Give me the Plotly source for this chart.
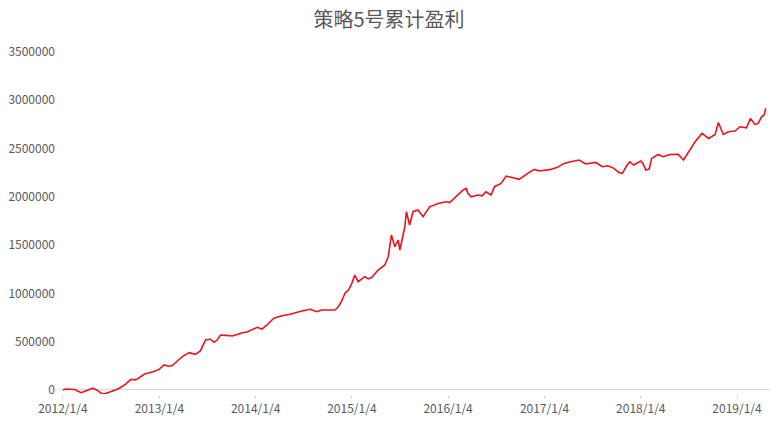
import plotly.graph_objects as go

dates = [
    "2012-01-04", "2012-01-16", "2012-02-17", "2012-03-13", "2012-04-04", "2012-04-26",
    "2012-05-11", "2012-05-28", "2012-06-11", "2012-06-22", "2012-07-11", "2012-07-26",
    "2012-08-11", "2012-08-29", "2012-09-18", "2012-10-02", "2012-10-13", "2012-11-08",
    "2012-11-24", "2012-12-15", "2013-01-04",
    "2013-01-22", "2013-02-07", "2013-02-22", "2013-03-13", "2013-04-01", "2013-04-27",
    "2013-05-09", "2013-05-21", "2013-06-09", "2013-06-28", "2013-07-17", "2013-07-30",
    "2013-08-11", "2013-08-24", "2013-09-14", "2013-10-07", "2013-10-26", "2013-11-14",
    "2013-12-03", "2013-12-22", "2014-01-04",
    "2014-01-10", "2014-01-28", "2014-02-16", "2014-03-14", "2014-04-14", "2014-05-15",
    "2014-06-16", "2014-06-28", "2014-07-30", "2014-08-24", "2014-09-12", "2014-10-08",
    "2014-11-01", "2014-11-14", "2014-11-27", "2014-12-09", "2014-12-22", "2015-01-04",
    "2015-01-15", "2015-01-28", "2015-02-10", "2015-02-22", "2015-03-07", "2015-03-20",
    "2015-04-14", "2015-05-09", "2015-05-22", "2015-05-28", "2015-06-03", "2015-06-16",
    "2015-06-29", "2015-07-05", "2015-07-18", "2015-07-24", "2015-07-30", "2015-08-11",
    "2015-08-24", "2015-09-12", "2015-10-01", "2015-10-26", "2015-11-27", "2015-12-28",
    "2016-01-10", "2016-01-28", "2016-02-15", "2016-02-29", "2016-03-13", "2016-03-19",
    "2016-04-01", "2016-04-26", "2016-05-12", "2016-05-27", "2016-06-15", "2016-06-28",
    "2016-07-23", "2016-08-11", "2016-08-30", "2016-09-30", "2016-11-01", "2016-11-26",
    "2016-12-15", "2017-01-04",
    "2017-01-28", "2017-02-22", "2017-03-19", "2017-04-13", "2017-05-15", "2017-06-09",
    "2017-06-28", "2017-07-17", "2017-08-11", "2017-08-30", "2017-09-11", "2017-09-24",
    "2017-10-13", "2017-10-26", "2017-11-13", "2017-11-23", "2017-12-08", "2017-12-26",
    "2018-01-04", "2018-01-12", "2018-01-23", "2018-02-05", "2018-02-14", "2018-03-11",
    "2018-03-30", "2018-04-24", "2018-05-26", "2018-06-15", "2018-07-04", "2018-07-29",
    "2018-08-24", "2018-09-18", "2018-10-13", "2018-10-25", "2018-11-13", "2018-12-02",
    "2018-12-27", "2019-01-15", "2019-02-09", "2019-02-24", "2019-03-13", "2019-03-25",
    "2019-04-07", "2019-04-16", "2019-04-23",
]

profit = [
    0, 10000, 5000, -28000, -5000, 18000,
    0, -34000, -40000, -30000, -15000, 5000,
    28000, 60000, 110000, 105000, 114000, 165000,
    175000, 190000, 215000,
    259000, 245000, 252000, 300000, 345000, 386000,
    380000, 369000, 407000, 517000, 525000, 493000,
    517000, 569000, 565000, 559000, 575000, 593000,
    600000, 621000, 640000,
    649000, 631000, 673000, 742000, 769000, 783000,
    811000, 818000, 835000, 811000, 828000, 825000,
    828000, 862000, 924000, 1001000, 1035000, 1104000,
    1190000, 1121000, 1146000, 1173000, 1150000, 1165000,
    1242000, 1294000, 1380000, 1483000, 1604000, 1483000,
    1553000, 1449000, 1604000, 1690000, 1846000, 1708000,
    1846000, 1863000, 1794000, 1897000, 1932000, 1949000,
    1940000, 1984000, 2030000, 2070000, 2087000, 2036000,
    2001000, 2019000, 2010000, 2053000, 2019000, 2105000,
    2139000, 2215000, 2202000, 2181000, 2243000, 2284000,
    2267000, 2275000,
    2284000, 2305000, 2346000, 2363000, 2381000, 2340000,
    2350000, 2356000, 2312000, 2322000, 2312000, 2295000,
    2253000, 2243000, 2329000, 2363000, 2329000, 2360000,
    2370000, 2346000, 2277000, 2288000, 2398000, 2439000,
    2415000, 2439000, 2440000, 2381000, 2467000, 2570000,
    2657000, 2605000, 2646000, 2770000, 2646000, 2674000,
    2681000, 2726000, 2715000, 2812000, 2750000, 2760000,
    2829000, 2846000, 2916000,
]

tick_dates = ["2012-01-04", "2013-01-04", "2014-01-04", "2015-01-04",
              "2016-01-04", "2017-01-04", "2018-01-04", "2019-01-04"]
tick_labels = ["2012/1/4", "2013/1/4", "2014/1/4", "2015/1/4",
               "2016/1/4", "2017/1/4", "2018/1/4", "2019/1/4"]
y_ticks = [0, 500000, 1000000, 1500000, 2000000, 2500000, 3000000, 3500000]

font_family = "Noto Sans CJK SC, Noto Sans, sans-serif"
grey = "#595959"

fig = go.Figure()
fig.add_trace(go.Scatter(
    x=dates, y=profit, mode="lines",
    line=dict(color="#e8141b", width=1.6),
    showlegend=False,
))

fig.update_layout(
    width=778, height=426,
    margin=dict(l=57, r=8, t=52, b=32),
    paper_bgcolor="white", plot_bgcolor="white",
    font=dict(family=font_family, size=12, color=grey),
    title=dict(text="策略5号累计盈利", x=0.5, xanchor="center",
               yref="container", y=0.953, yanchor="middle",
               font=dict(family=font_family, size=20, color=grey)),
)
fig.update_xaxes(
    type="date",
    range=["2011-12-24", "2019-05-09"],
    tickvals=tick_dates, ticktext=tick_labels,
    showgrid=False, showline=False, zeroline=False,
    ticks="outside", ticklen=4, tickcolor="#d9d9d9",
    tickfont=dict(size=12, color=grey),
)
fig.update_yaxes(
    range=[-42000, 3500000],
    tickvals=y_ticks, ticktext=[str(v) for v in y_ticks],
    showgrid=False, showline=False,
    zeroline=True, zerolinecolor="#d9d9d9", zerolinewidth=1,
    ticks="", ticklabelstandoff=4,
    tickfont=dict(size=12, color=grey),
)

fig.write_html(
    "out.html",
    config={"displayModeBar": False},
    post_script="document.body.style.margin='0';document.body.style.overflow='hidden';",
)
